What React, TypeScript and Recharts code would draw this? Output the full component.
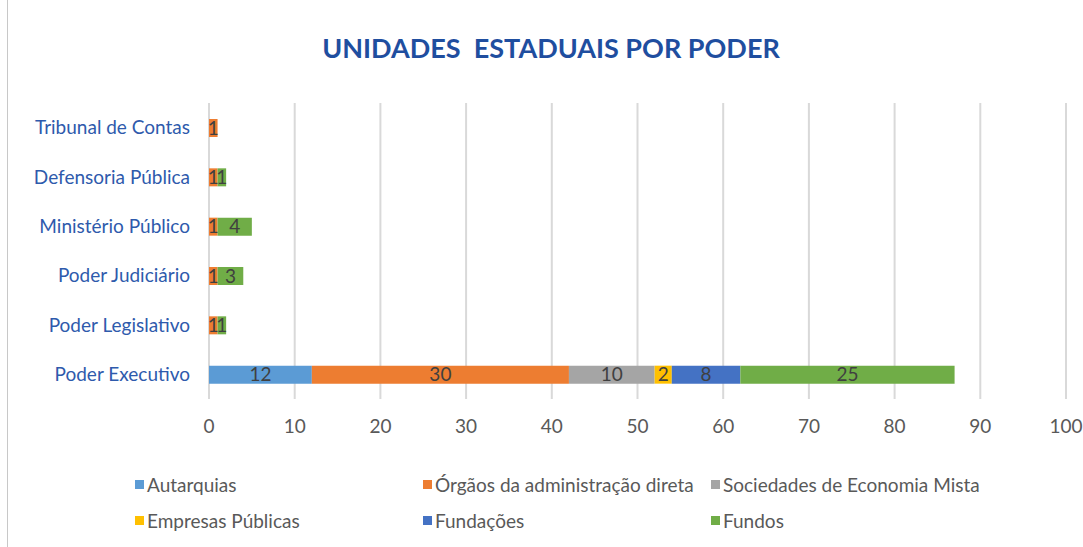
import React from 'react';
import { BarChart, Bar, XAxis, YAxis, CartesianGrid, LabelList } from 'recharts';

const categories = ['Tribunal de Contas', 'Defensoria Pública', 'Ministério Público', 'Poder Judiciário', 'Poder Legislativo', 'Poder Executivo'];
const autarquias = [null, null, null, null, null, 12];
const orgaos = [1, 1, 1, 1, 1, 30];
const sociedades = [null, null, null, null, null, 10];
const empresas = [null, null, null, null, null, 2];
const fundacoes = [null, null, null, null, null, 8];
const fundos = [null, 1, 4, 3, 1, 25];
const xTicks = [0, 10, 20, 30, 40, 50, 60, 70, 80, 90, 100];

const seriesKeys = ['autarquias', 'orgaos', 'sociedades', 'empresas', 'fundacoes', 'fundos'];
const seriesNames = ['Autarquias', 'Órgãos da administração direta', 'Sociedades de Economia Mista', 'Empresas Públicas', 'Fundações', 'Fundos'];
const seriesColors = ['#5B9BD5', '#ED7D31', '#A5A5A5', '#FFC000', '#4472C4', '#70AD47'];
const seriesValues = [autarquias, orgaos, sociedades, empresas, fundacoes, fundos];

const data = categories.map((c, i) => {
  const row: any = { name: c };
  seriesKeys.forEach((k, j) => { row[k] = seriesValues[j][i]; });
  return row;
});

const FONT = 'Lato, "Open Sans", sans-serif';

const LegendBlock = () => (
  <div style={{ position: 'absolute', left: 135, top: 473, display: 'grid', gridTemplateColumns: '288px 288px 288px', rowGap: 14, fontFamily: FONT, fontSize: 19, color: '#595959' }}>
    {seriesNames.map((n, i) => (
      <div key={n} style={{ display: 'flex', alignItems: 'center', height: 22, whiteSpace: 'nowrap' }}>
        <span style={{ display: 'inline-block', width: 9, height: 9, background: seriesColors[i], marginRight: 3 }} />
        <span>{n}</span>
      </div>
    ))}
  </div>
);

export default function App() {
  return (
    <div style={{ position: 'absolute', left: 0, top: 0, width: 1083, height: 547, background: '#fff', overflow: 'hidden' }}>
      <div style={{ position: 'absolute', left: 7, top: 0, width: 1, height: 547, background: '#c8c8c8' }} />
      <div style={{ position: 'absolute', left: 0, width: 1102, top: 31, textAlign: 'center', whiteSpace: 'pre', fontFamily: FONT, fontWeight: 700, fontSize: 27, color: '#1F4E9F' }}>
        {'UNIDADES  ESTADUAIS POR PODER'}
      </div>
      <BarChart
        width={1083}
        height={547}
        data={data}
        layout="vertical"
        margin={{ top: 103, right: 17, bottom: 108, left: 9 }}
        barSize={18}
      >
        <CartesianGrid horizontal={false} stroke="#D9D9D9" strokeWidth={2} />
        <XAxis
          type="number"
          domain={[0, 100]}
          ticks={xTicks}
          axisLine={false}
          tickLine={false}
          tick={{ fill: '#595959', fontSize: 19, fontFamily: FONT }}
          tickMargin={15}
          height={40}
        />
        <YAxis
          type="category"
          dataKey="name"
          width={200}
          axisLine={false}
          tickLine={false}
          tick={{ fill: '#2E5AAC', fontSize: 19, fontFamily: FONT }}
          tickMargin={13}
        />
        {seriesKeys.map((k, i) => (
          <Bar key={k} dataKey={k} name={seriesNames[i]} stackId="a" fill={seriesColors[i]} isAnimationActive={false}>
            <LabelList
              dataKey={k}
              position="center"
              fill="#404040"
              fontSize={19}
              fontFamily={FONT}
              formatter={(v: any) => (v ? v : '')}
            />
          </Bar>
        ))}
      </BarChart>
      <LegendBlock />
    </div>
  );
}
